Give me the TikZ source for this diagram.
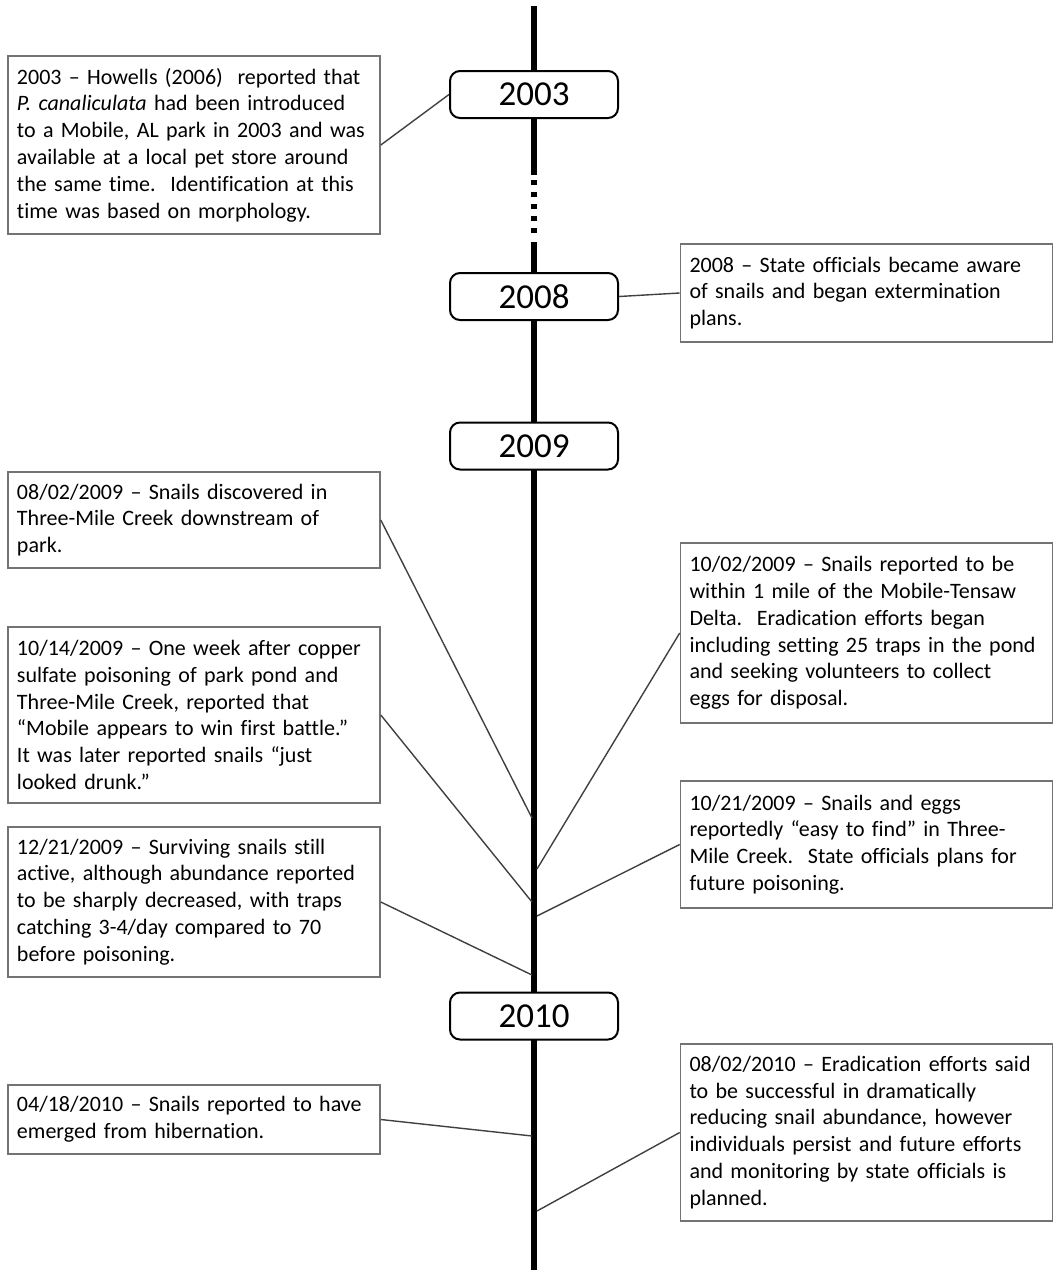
\documentclass[tikz,border=0pt]{standalone}
\usepackage{fontspec}
\setmainfont{Carlito}[Ligatures={TeX,NoCommon}]
\usepackage{tikz}
\usetikzlibrary{positioning}

\begin{document}
\begin{tikzpicture}[x=0.5pt,y=-0.5pt]
\tikzstyle{yearbox}=[draw=black,line width=1pt,rounded corners=5pt,fill=white,
minimum width=84pt,minimum height=23.5pt,inner sep=0pt,
font=\fontsize{17.5}{21}\selectfont]
\tikzstyle{note}=[draw=black!55,line width=0.8pt,fill=white,align=left,
text width=177pt,inner xsep=4.5pt,inner ysep=3pt,
font=\fontsize{11}{13.4}\selectfont]
\tikzstyle{link}=[draw=black!75,line width=0.7pt]
\useasboundingbox (0,0) rectangle (1054,1270);

% time line
\draw[line width=3pt] (534,6) -- (534,175);
\draw[line width=3pt,dash pattern=on 2.5pt off 3.5pt] (534,180) -- (534,240);
\draw[line width=3pt] (534,242) -- (534,1270);

% years
\node[yearbox] at (534,94.5) (y2003) {2003};
\node[yearbox] at (534,296.5) (y2008) {2008};
\node[yearbox] at (534,446) (y2009) {2009};
\node[yearbox] at (534,1016) (y2010) {2010};

% notes, left side
\node[note,minimum height=89pt] at (194,145) (A) {2003 – Howells (2006)\ \ reported that\\
\textit{P. canaliculata} had been introduced\\
to a Mobile, AL park in 2003 and was\\
available at a local pet store around\\
the same time.\ \ Identification at this\\
time was based on morphology.};
\node[note,minimum height=48pt] at (194,520) (C) {08/02/2009 – Snails discovered in\\
Three-Mile Creek downstream of\\
park.};
\node[note,minimum height=88pt] at (194,715) (D) {10/14/2009 – One week after copper\\
sulfate poisoning of park pond and\\
Three-Mile Creek, reported that\\
“Mobile appears to win first battle.”\\
It was later reported snails “just\\
looked drunk.”};
\node[note,minimum height=75pt] at (194,902) (E) {12/21/2009 – Surviving snails still\\
active, although abundance reported\\
to be sharply decreased, with traps\\
catching 3-4/day compared to 70\\
before poisoning.};
\node[note,minimum height=34.5pt] at (194,1119.5) (H) {04/18/2010 – Snails reported to have\\
emerged from hibernation.};

% notes, right side
\node[note,minimum height=49pt] at (866.5,293) (B) {2008 – State officials became aware\\
of snails and began extermination\\
plans.};
\node[note,minimum height=90pt] at (866.5,633) (F) {10/02/2009 – Snails reported to be\\
within 1 mile of the Mobile-Tensaw\\
Delta.\ \ Eradication efforts began\\
including setting 25 traps in the pond\\
and seeking volunteers to collect\\
eggs for disposal.};
\node[note,minimum height=63.5pt] at (866.5,844.5) (G) {10/21/2009 – Snails and eggs\\
reportedly “easy to find” in Three-\\
Mile Creek.\ \ State officials plans for\\
future poisoning.};
\node[note,minimum height=88.5pt] at (866.5,1132.5) (I) {08/02/2010 – Eradication efforts said\\
to be successful in dramatically\\
reducing snail abundance, however\\
individuals persist and future efforts\\
and monitoring by state officials is\\
planned.};

% where the notes meet the line
\coordinate (tC) at (532,818);
\coordinate (tD) at (532,902);
\coordinate (tE) at (532,975);
\coordinate (tH) at (532,1136);
\coordinate (tF) at (537,869);
\coordinate (tG) at (537,916);
\coordinate (tI) at (537,1211);

\path[link] (A.east) edge (y2003.west) ;
\path[link] (y2008.east) edge (B.west) ;
\path[link] (C.east) edge (tC) ;
\path[link] (D.east) edge (tD) ;
\path[link] (E.east) edge (tE) ;
\path[link] (H.east) edge (tH) ;
\path[link] (F.west) edge (tF) ;
\path[link] (G.west) edge (tG) ;
\path[link] (I.west) edge (tI) ;

\end{tikzpicture}
\end{document}
